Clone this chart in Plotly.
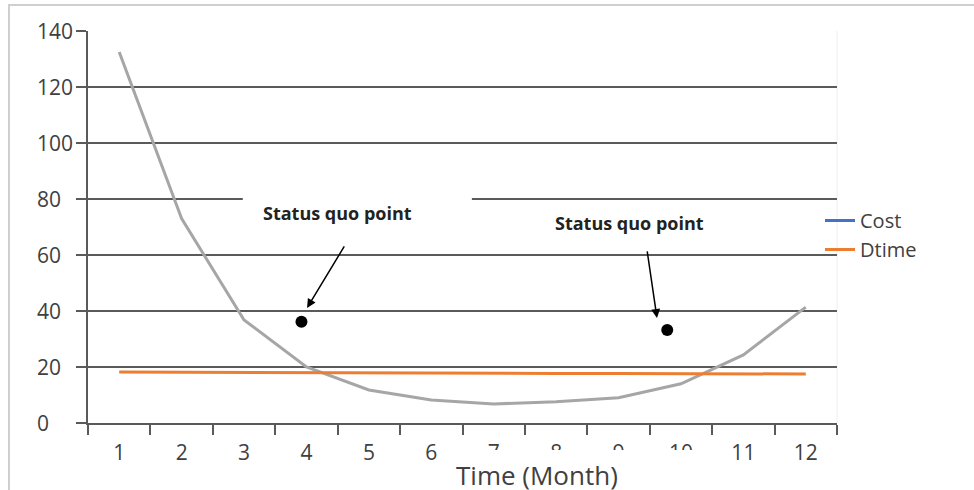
import plotly.graph_objects as go

# ---- data ----
months = [1, 2, 3, 4, 5, 6, 7, 8, 9, 10, 11, 12]
curve = [132.5, 73, 36.8, 20, 11.8, 8.2, 6.8, 7.6, 9, 14, 24.3, 41.4]
dtime = [18.2, 18.1, 18.0, 17.9, 17.9, 17.8, 17.8, 17.7, 17.7, 17.6, 17.5, 17.5]
cost = [None] * 12
status_x = [3.92, 9.78]
status_y = [36.2, 33.2]
y_ticks = [0, 20, 40, 60, 80, 100, 120, 140]
x_labels = ["1", "2", "3", "4", "5", "6", "7", "8", "9", "10", "11", "12"]

FONT = "Open Sans"
TXT = "#404040"
GRID = "#5a5a5a"

fig = go.Figure()
fig.add_trace(go.Scatter(x=months, y=curve, mode="lines", showlegend=False,
                         line=dict(color="#a6a6a6", width=3), hoverinfo="skip"))
fig.add_trace(go.Scatter(x=months, y=cost, mode="lines", name="Cost",
                         line=dict(color="#4472C4", width=3)))
fig.add_trace(go.Scatter(x=months, y=dtime, mode="lines", name="Dtime",
                         line=dict(color="#ED7D31", width=3)))
fig.add_trace(go.Scatter(x=status_x, y=status_y, mode="markers", showlegend=False,
                         marker=dict(color="black", size=12, symbol="circle")))

annotations = []
for v in y_ticks:
    annotations.append(dict(xref="paper", yref="y", x=(35 - 88) / 749, y=v,
                            xanchor="left", yanchor="middle", showarrow=False,
                            text=str(v), font=dict(family=FONT, size=21, color=TXT)))

# status quo labels
annotations.append(dict(x=4.505, y=75, xref="x", yref="y", text="<b>Status quo point</b>",
                        showarrow=False, font=dict(family=FONT, size=18, color="#222222")))
annotations.append(dict(x=9.183, y=71.4, xref="x", yref="y", text="<b>Status quo point</b>",
                        showarrow=False, font=dict(family=FONT, size=18, color="#222222")))
# arrows
annotations.append(dict(x=4.01, y=41.1, ax=4.62, ay=63.6, xref="x", yref="y",
                        axref="x", ayref="y", text="", showarrow=True, arrowhead=2,
                        arrowsize=1.2, arrowwidth=1.5, arrowcolor="black", standoff=0))
annotations.append(dict(x=9.616, y=37.5, ax=9.456, ay=61.8, xref="x", yref="y",
                        axref="x", ayref="y", text="", showarrow=True, arrowhead=2,
                        arrowsize=1.2, arrowwidth=1.5, arrowcolor="black", standoff=0))
# x axis title
annotations.append(dict(xref="paper", yref="paper", x=(537 - 88) / 749, y=(423 - 475) / 392,
                        xanchor="center", yanchor="middle", showarrow=False,
                        text="Time (Month)", font=dict(family=FONT, size=26, color=TXT)))

shapes = [
    # outer border
    dict(type="rect", xref="paper", yref="paper", x0=(9 - 88) / 749, x1=1.25,
         y0=-0.4, y1=(423 - 5) / 392, line=dict(color="#cfcfcf", width=2),
         fillcolor="rgba(0,0,0,0)", layer="below"),
    # white box behind left label (hides gridline)
    dict(type="rect", xref="x", yref="y", x0=2.98, x1=6.65, y0=66, y1=94,
         line=dict(width=0), fillcolor="white", layer="between"),
    # white box behind axis title (hides part of some tick labels)
    dict(type="rect", xref="paper", yref="paper", x0=(452 - 88) / 749, x1=(715 - 88) / 749,
         y0=-0.4, y1=(423 - 450) / 392, line=dict(width=0), fillcolor="white", layer="above"),
    # faint plot-area right border
    dict(type="line", xref="paper", yref="paper", x0=1, x1=1, y0=0, y1=1,
         line=dict(color="#eeeeee", width=1), layer="below"),
]

fig.update_layout(
    width=974, height=490,
    margin=dict(l=88, r=137, t=31, b=67),
    paper_bgcolor="white", plot_bgcolor="white",
    font=dict(family=FONT, size=21, color=TXT),
    showlegend=True,
    legend=dict(x=(820 - 88) / 749, y=(423 - 201) / 392, xanchor="left", yanchor="top",
                font=dict(family=FONT, size=20, color=TXT), bgcolor="rgba(0,0,0,0)"),
    annotations=annotations,
    shapes=shapes,
)

fig.update_xaxes(
    range=[0.5, 12.5], tickmode="array", tickvals=months, ticktext=x_labels,
    ticks="outside", ticklen=10, tickcolor="rgba(0,0,0,0)",
    tickfont=dict(family=FONT, size=21, color=TXT),
    showgrid=False, zeroline=False,
    showline=True, linecolor=GRID, linewidth=2,
    minor=dict(tickmode="linear", tick0=0.5, dtick=1, ticks="outside", ticklen=10,
               tickcolor=GRID, tickwidth=2, showgrid=False),
)
fig.update_yaxes(
    range=[0, 140], tickmode="array", tickvals=y_ticks, showticklabels=False,
    ticks="outside", ticklen=10, tickcolor=GRID, tickwidth=2,
    showgrid=True, gridcolor=GRID, gridwidth=1.8, zeroline=False,
    showline=True, linecolor=GRID, linewidth=2,
)

fig.write_html("out.html")
